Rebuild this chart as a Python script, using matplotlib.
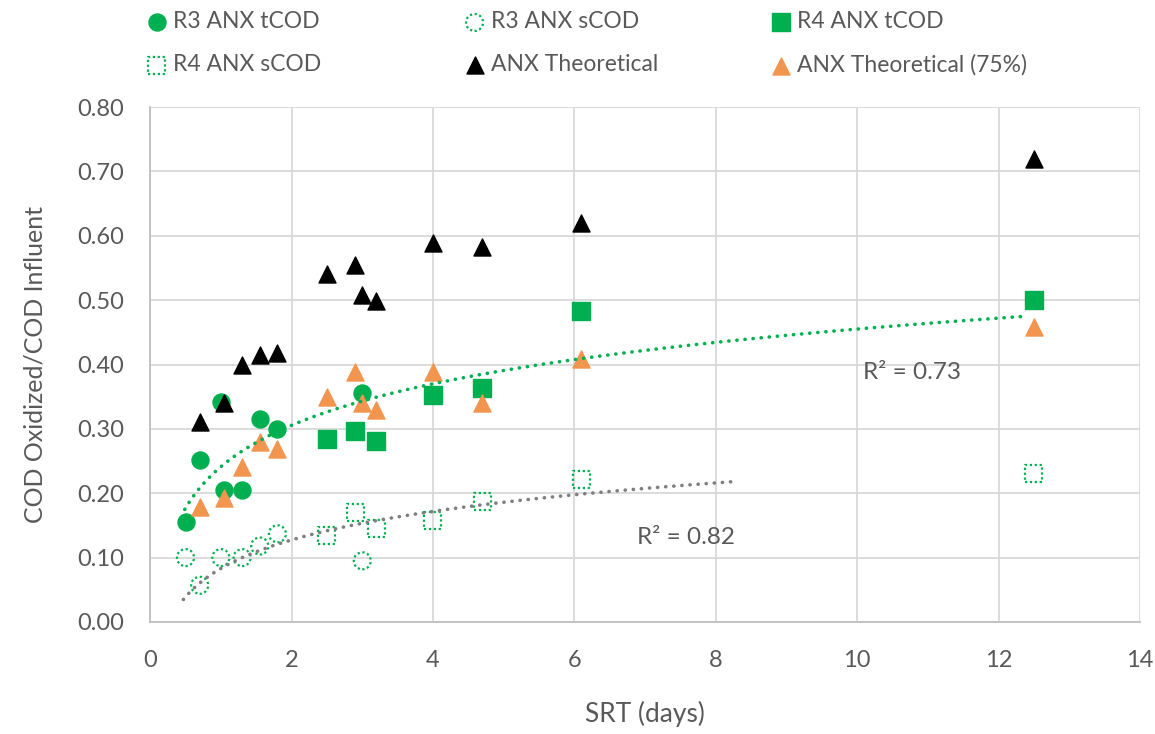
import numpy as np
import matplotlib
matplotlib.use("Agg")
import matplotlib.pyplot as plt

plt.rcParams["font.family"] = ["Lato", "DejaVu Sans"]

GREEN = "#00B050"
ORANGE = "#F2954F"
GREY_TXT = "#595959"

# R3 ANX (filled = total COD, open = soluble COD)
r3_srt = [0.5, 0.7, 1.0, 1.05, 1.3, 1.55, 1.8, 3.0]
r3_tcod = [0.155, 0.252, 0.342, 0.205, 0.205, 0.315, 0.300, 0.355]
r3_scod_srt = [0.5, 0.7, 1.0, 1.3, 1.55, 1.8, 3.0]
r3_scod = [0.100, 0.057, 0.100, 0.100, 0.118, 0.137, 0.095]

# R4 ANX
r4_srt = [2.5, 2.9, 3.2, 4.0, 4.7, 6.1, 12.5]
r4_tcod = [0.284, 0.296, 0.281, 0.352, 0.364, 0.483, 0.500]
r4_scod = [0.134, 0.170, 0.145, 0.158, 0.187, 0.222, 0.231]

# theoretical values
theo_srt = [0.7, 1.05, 1.3, 1.55, 1.8, 2.5, 2.9, 3.0, 3.2, 4.0, 4.7, 6.1, 12.5]
theo = [0.311, 0.340, 0.400, 0.415, 0.418, 0.540, 0.555, 0.508, 0.498, 0.589, 0.582, 0.620, 0.720]
theo75 = [0.179, 0.192, 0.240, 0.280, 0.268, 0.350, 0.389, 0.340, 0.330, 0.389, 0.340, 0.408, 0.458]

# log trendlines y = a*ln(x) + b (a, b, x start, x end)
trend_tcod = (0.0929, 0.2412, 0.49, 12.4)
trend_scod = (0.0639, 0.0832, 0.47, 8.26)
r2_labels = ["R\u00b2 = 0.73", "R\u00b2 = 0.82"]

fig = plt.figure(figsize=(11.55, 7.34), dpi=100)
ax = fig.add_axes([0.130, 0.1526, 0.857, 0.7016])

ms = 150
dot = (0, (1, 1.2))

h_r3t = ax.scatter(r3_srt, r3_tcod, s=ms, marker="o", color=GREEN, zorder=3)
h_r3s = ax.scatter(r3_scod_srt, r3_scod, s=ms, marker="o", facecolors="none",
                   edgecolors=GREEN, linewidths=1.6, linestyles=dot, zorder=3)
h_r4t = ax.scatter(r4_srt, r4_tcod, s=ms, marker="s", color=GREEN, zorder=3)
h_r4s = ax.scatter(r4_srt, r4_scod, s=ms, marker="s", facecolors="none",
                   edgecolors=GREEN, linewidths=1.6, linestyles=dot, zorder=3)
h_th = ax.scatter(theo_srt, theo, s=ms, marker="^", color="black", zorder=3)
h_th75 = ax.scatter(theo_srt, theo75, s=ms, marker="^", color=ORANGE, zorder=3)

for (a, b, x0, x1), col in [(trend_tcod, GREEN), (trend_scod, "#7F7F7F")]:
    xs = np.linspace(x0, x1, 200)
    ax.plot(xs, a * np.log(xs) + b, color=col, lw=2.6,
            linestyle=(0, (0.05, 2.2)), dash_capstyle="round", zorder=4)

ax.text(10.08, 0.387, r2_labels[0], fontsize=17.5, color=GREY_TXT, va="center")
ax.text(6.88, 0.132, r2_labels[1], fontsize=17.5, color=GREY_TXT, va="center")

ax.set_xlim(0, 14)
ax.set_ylim(0, 0.8)
ax.set_xticks(range(0, 15, 2))
ax.set_yticks(np.arange(0, 0.81, 0.1))
ax.set_yticklabels([f"{v:.2f}" for v in np.arange(0, 0.81, 0.1)])
ax.grid(True, color="#D9D9D9", lw=1.3)
ax.set_axisbelow(True)
for s in ["top", "right"]:
    ax.spines[s].set_visible(False)
for s in ["left", "bottom"]:
    ax.spines[s].set_color("#BFBFBF")
    ax.spines[s].set_linewidth(1.3)
ax.tick_params(length=0, labelsize=17, labelcolor=GREY_TXT)
ax.tick_params(axis="x", pad=20)
ax.tick_params(axis="y", pad=19)
ax.set_xlabel("SRT (days)", fontsize=19, color=GREY_TXT, labelpad=22)
ax.set_ylabel("COD Oxidized/COD Influent", fontsize=18, color=GREY_TXT, labelpad=22)

cols = [
    ([h_r3t, h_r4s], ["R3 ANX tCOD", "R4 ANX sCOD"], 0.118),
    ([h_r3s, h_th], ["R3 ANX sCOD", "ANX Theoretical"], 0.393),
    ([h_r4t, h_th75], ["R4 ANX tCOD", "ANX Theoretical (75%)"], 0.658),
]
for handles, labels, x in cols:
    fig.legend(handles, labels, loc="upper left", bbox_to_anchor=(x, 1.0),
               frameon=False, fontsize=16.5, labelcolor=GREY_TXT, handlelength=0.8,
               handletextpad=0.3, labelspacing=0.95, borderaxespad=0.1,
               scatterpoints=1)

fig.savefig("out.png", dpi=100)
